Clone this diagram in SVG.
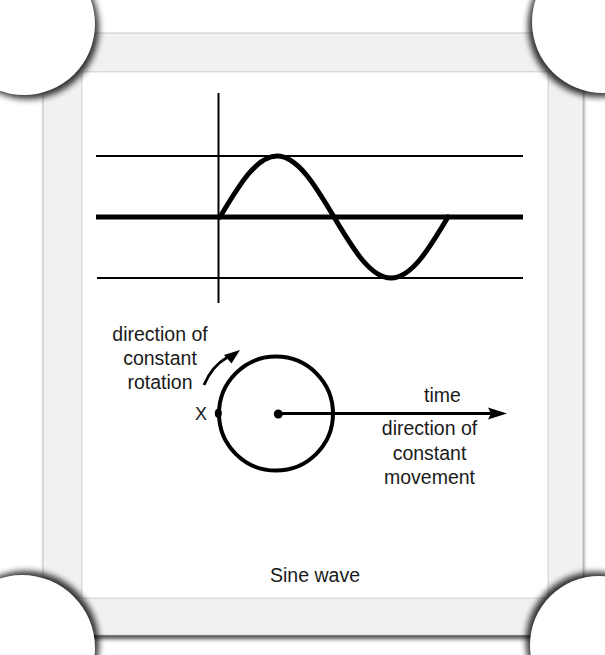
<svg xmlns="http://www.w3.org/2000/svg" width="605" height="655" viewBox="0 0 605 655">
  <defs>
    <filter id="blur" x="-20%" y="-20%" width="140%" height="140%">
      <feGaussianBlur stdDeviation="3.2"/>
    </filter>
    <filter id="fblur" x="-10%" y="-10%" width="120%" height="120%">
      <feGaussianBlur stdDeviation="2"/>
    </filter>
  </defs>
  <style>
    .thin { stroke: #000; stroke-width: 2; fill: none; }
    .thick { stroke: #000; stroke-width: 5; fill: none; }
    .wave { stroke: #000; stroke-width: 5; fill: none; stroke-linecap: round; }
    .lbl { font-family: "Liberation Sans", Arial, sans-serif; font-size: 19.5px; fill: #1a1a1a; text-anchor: middle; }
    .corner { fill: #fff; }
  </style>
  <rect width="605" height="655" fill="#fff"/>

  <g id="frame">
    <rect x="45" y="38" width="538" height="601" fill="#000" opacity="0.7" filter="url(#fblur)"/>
    <path d="M43,33 H583 V635 H43 Z M82,72 V598 H548 V72 Z" fill="#f1f1ef" fill-rule="evenodd" stroke="#bdbdbd" stroke-width="0.8"/>
    <rect x="82" y="72" width="466" height="526" fill="#fff" stroke="#d6d6d6" stroke-width="0.8"/>
  </g>

  <g id="corners">
    <g filter="url(#blur)" opacity="0.8">
      <circle cx="28" cy="28" r="71" fill="#000"/>
      <circle cx="599" cy="26" r="71" fill="#000"/>
      <circle cx="26" cy="644" r="73" fill="#000"/>
      <circle cx="595" cy="641" r="69" fill="#000"/>
    </g>
    <circle class="corner" cx="24" cy="24" r="71"/>
    <circle class="corner" cx="603" cy="22" r="71"/>
    <circle class="corner" cx="22" cy="648" r="73"/>
    <circle class="corner" cx="599" cy="645" r="69"/>
  </g>

  <g id="graph">
    <line class="thin" x1="218.5" y1="93" x2="218.5" y2="303"/>
    <line class="thin" x1="96" y1="156" x2="523" y2="156"/>
    <line class="thick" x1="96" y1="217" x2="523" y2="217"/>
    <line class="thin" x1="97" y1="278" x2="523" y2="278"/>
    <path class="wave" d="M220,217 C238.6,185.75 256.4,156 277,156 S315.4,185.75 334,217 S370.4,278 391,278 S429.4,248.25 448,217"/>
  </g>

  <g id="wheel">
    <circle cx="276" cy="413.6" r="57" fill="none" stroke="#000" stroke-width="4"/>
    <circle cx="278.3" cy="414" r="4.5" fill="#000"/>
    <ellipse cx="218.3" cy="413.3" rx="3.5" ry="4.5" fill="#000"/>
    <text class="lbl" x="201" y="420" style="font-size:18px">X</text>
  </g>

  <g id="connectors">
    <line x1="278" y1="413.5" x2="492" y2="413.5" stroke="#000" stroke-width="3"/>
    <polygon points="488,407.5 507,413.5 488,419.5 491,413.5" fill="#000"/>
    <path d="M204,385 Q212,366 227,357.5" fill="none" stroke="#000" stroke-width="2.8"/>
    <polygon points="240,350 224,355 231.5,363.5" fill="#000"/>
  </g>

  <g id="labels">
    <text class="lbl" x="160" y="341">direction of</text>
    <text class="lbl" x="160" y="365">constant</text>
    <text class="lbl" x="160" y="389">rotation</text>
    <text class="lbl" x="442.5" y="402">time</text>
    <text class="lbl" x="429.5" y="435">direction of</text>
    <text class="lbl" x="429.5" y="459.5">constant</text>
    <text class="lbl" x="429.5" y="484">movement</text>
    <text class="lbl" x="315" y="582">Sine wave</text>
  </g>
</svg>
